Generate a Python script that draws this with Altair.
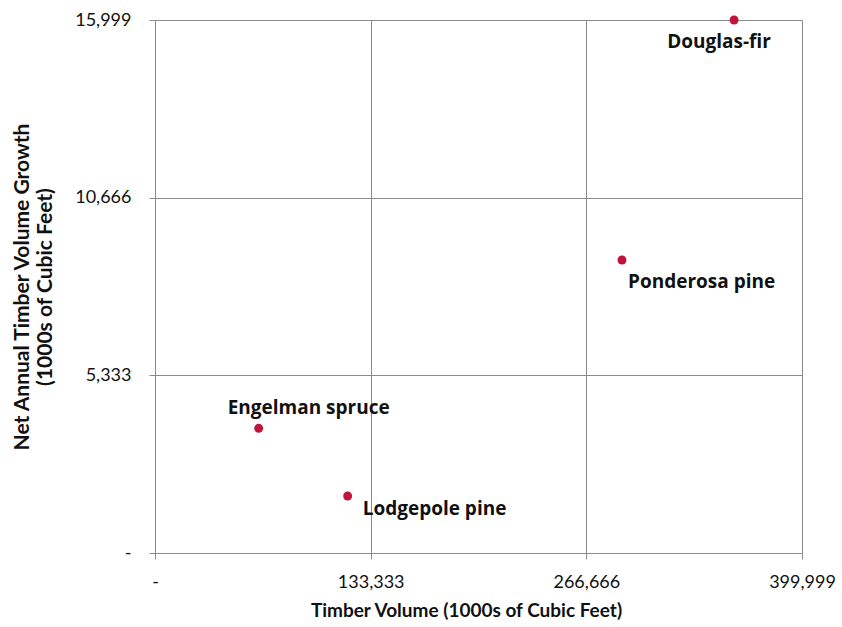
import altair as alt
import pandas as pd

# Species, standing timber volume and net annual growth (both in 1000s of cubic feet)
species = ["Douglas-fir", "Ponderosa pine", "Engelman spruce", "Lodgepole pine"]
volume = [358000, 288700, 64100, 119100]
growth = [15999, 8795, 3743, 1711]

# Label offsets (pixels) relative to each point
label_dx = [-15, 6, 50, 15]
label_dy = [22, 22, -20, 13]
label_align = ["center", "left", "center", "left"]

x_ticks = [0, 133333, 266666, 399999]
y_ticks = [0, 5333, 10666, 15999]

df = pd.DataFrame({"species": species, "volume": volume, "growth": growth})

AXIS_FONT = "Lato"
LABEL_FONT = "Open Sans"
GRID = "#8c8c8c"
POINT = "#C0143C"
INK = "#111111"

fmt_expr = "datum.value == 0 ? '-' : format(datum.value, ',')"

common_axis = dict(
    labelExpr=fmt_expr,
    grid=True,
    gridColor=GRID,
    gridWidth=1,
    domainColor=GRID,
    domainWidth=1,
    tickColor=GRID,
    tickSize=6,
    labelFlush=False,
    labelFont=AXIS_FONT,
    labelFontSize=18,
    labelFontWeight="normal",
    labelColor=INK,
    titleFont=AXIS_FONT,
    titleFontWeight="bold",
    titleColor=INK,
)

x_enc = alt.X(
    "volume:Q",
    scale=alt.Scale(domain=[0, 399999], nice=False, zero=True),
    axis=alt.Axis(
        values=x_ticks,
        title="Timber Volume (1000s of Cubic Feet)",
        titleFontSize=19,
        titleX=311,
        labelPadding=14,
        titlePadding=10,
        **common_axis,
    ),
)
y_enc = alt.Y(
    "growth:Q",
    scale=alt.Scale(domain=[0, 15999], nice=False, zero=True),
    axis=alt.Axis(
        values=y_ticks,
        title=["Net Annual Timber Volume Growth", "(1000s of Cubic Feet)"],
        titleFontSize=21,
        titleLineHeight=23,
        labelPadding=18,
        titlePadding=19,
        **common_axis,
    ),
)

points = alt.Chart(df).mark_circle(size=80, color=POINT, opacity=1).encode(x=x_enc, y=y_enc)

layers = [points]
for name, dx, dy, al in zip(species, label_dx, label_dy, label_align):
    sub = df[df["species"] == name]
    layers.append(
        alt.Chart(sub)
        .mark_text(
            dx=dx, dy=dy, align=al, baseline="middle",
            font=LABEL_FONT, fontSize=19, fontWeight="bold", color=INK,
        )
        .encode(x="volume:Q", y="growth:Q", text="species:N")
    )

chart = (
    alt.layer(*layers)
    .properties(
        width=647,
        height=533,
        autosize=alt.AutoSizeParams(type="none"),
        padding={"left": 155, "top": 20, "right": 40, "bottom": 74},
        background="white",
    )
    .configure_view(stroke=None)
)

chart.save("out.html", embed_options={"renderer": "svg", "actions": False})
